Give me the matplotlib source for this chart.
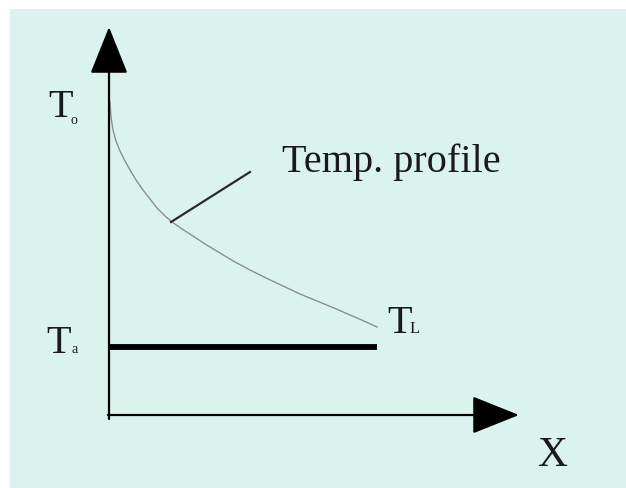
import matplotlib
matplotlib.use('Agg')
import matplotlib.pyplot as plt
from matplotlib.patches import FancyArrowPatch, Rectangle

###############################################################################
''' Data (read off the picture; x = distance, T = temperature, in pixel-ish units) '''
curve_x = [1, 2, 4, 7, 11, 16, 21, 27, 34, 41, 48, 55, 63, 73, 84, 96,
           111, 126, 141, 157, 174, 191, 208, 225, 241, 255, 268]
curve_T = [313, 298, 285, 274, 264, 254, 245, 235, 225, 216, 207, 200, 193,
           186, 179, 171, 162, 153, 145, 137, 129, 121, 114, 107, 100, 94, 88]
T_ambient = 68
ambient_x = [0, 268]
leader_x = [62, 141]
leader_T = [193, 243]

###############################################################################
''' Figure '''
fig = plt.figure(figsize=(6.26, 4.89), dpi=100)
fig.patch.set_facecolor('white')
ax = fig.add_axes([0, 0, 1, 1])
ax.set_xlim(-109, 517)
ax.set_ylim(-73, 416)
ax.axis('off')

# light cyan panel
ax.add_patch(Rectangle((-99, -73), 626, 479, facecolor='#dbf3ef',
                       edgecolor='none', zorder=0))

serif = ['Liberation Serif', 'DejaVu Serif']

# axes with arrows
arrow_style = '-|>,head_length=3.0,head_width=1.2'
ax.add_patch(FancyArrowPatch((0, -4), (0, 388), arrowstyle=arrow_style,
                             mutation_scale=10, lw=1.6, color='black',
                             shrinkA=0, shrinkB=0, zorder=3))
ax.add_patch(FancyArrowPatch((-1, 0), (410, 0), arrowstyle=arrow_style,
                             mutation_scale=10, lw=1.6, color='black',
                             shrinkA=0, shrinkB=0, zorder=3))

# temperature profile + ambient line
ax.plot(curve_x, curve_T, color='#8a8f8f', lw=1.0, zorder=2)
ax.plot(ambient_x, [T_ambient, T_ambient], color='black', lw=4.2,
        solid_capstyle='butt', zorder=2)
ax.plot(leader_x, leader_T, color='#2a2a2a', lw=1.6, zorder=2)

# labels
ax.text(173, 244, 'Temp. profile', family=serif, fontsize=29,
        color='#1a1a1a', ha='left', va='baseline')
ax.text(-61, 299, 'T', family=serif, fontsize=29, color='#1a1a1a',
        ha='left', va='baseline')
ax.text(-38, 292, 'o', family=serif, fontsize=10, color='#1a1a1a',
        ha='left', va='baseline')
ax.text(-63, 63, 'T', family=serif, fontsize=29, color='#1a1a1a',
        ha='left', va='baseline')
ax.text(-37, 63, 'a', family=serif, fontsize=10, color='#1a1a1a',
        ha='left', va='baseline')
ax.text(278, 83, 'T', family=serif, fontsize=29, color='#1a1a1a',
        ha='left', va='baseline')
ax.text(301, 83, 'L', family=serif, fontsize=12, color='#1a1a1a',
        ha='left', va='baseline')
ax.text(428, -50, 'X', family=serif, fontsize=30, color='#1a1a1a',
        ha='left', va='baseline')

fig.savefig('out.png', dpi=100, facecolor=fig.get_facecolor())
